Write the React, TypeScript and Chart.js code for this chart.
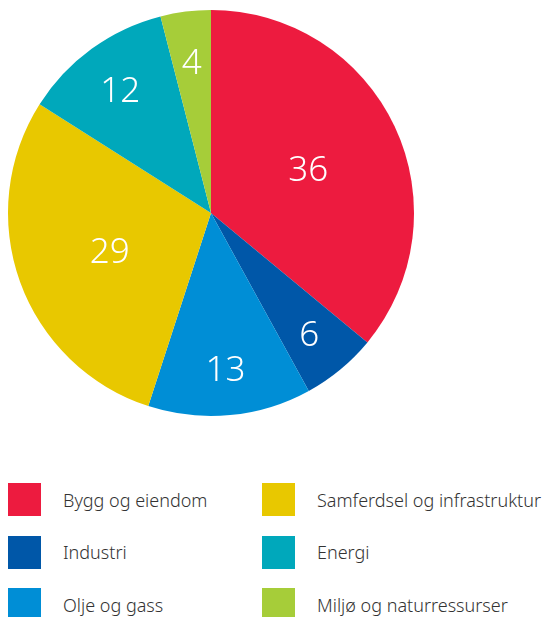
import React, { useEffect, useRef } from "react";
import { Chart, registerables } from "chart.js";

Chart.register(...registerables);

const categories = [
  "Bygg og eiendom",
  "Industri",
  "Olje og gass",
  "Samferdsel og infrastruktur",
  "Energi",
  "Miljø og naturressurser",
];
const values = [36, 6, 13, 29, 12, 4];
const colors = ["#ED1B3F", "#0057A8", "#008ED6", "#E8C800", "#00A8BB", "#A6CD39"];
const legendOrder = [0, 3, 1, 4, 2, 5];

const labelPlugin = {
  id: "sliceLabels",
  afterDatasetsDraw(chart: any) {
    const ctx = chart.ctx;
    const meta = chart.getDatasetMeta(0);
    ctx.save();
    ctx.fillStyle = "#ffffff";
    ctx.font = "300 35px 'Noto Sans', sans-serif";
    ctx.textAlign = "center";
    ctx.textBaseline = "middle";
    meta.data.forEach((arc: any, i: number) => {
      const { x, y, startAngle, endAngle, outerRadius } = arc.getProps(
        ["x", "y", "startAngle", "endAngle", "outerRadius"],
        true
      );
      const mid = (startAngle + endAngle) / 2;
      const f = values[i] > 20 ? 0.53 : 0.76;
      ctx.fillText(String(values[i]), x + Math.cos(mid) * outerRadius * f, y + Math.sin(mid) * outerRadius * f + 4);
    });
    ctx.restore();
  },
};

export default function App() {
  const ref = useRef<HTMLCanvasElement>(null);
  useEffect(() => {
    const chart = new Chart(ref.current!, {
      type: "pie",
      data: {
        labels: categories,
        datasets: [{ data: values, backgroundColor: colors, borderWidth: 0 }],
      },
      options: {
        animation: false,
        responsive: false,
        layout: { padding: 8 },
        plugins: { legend: { display: false }, tooltip: { enabled: false } },
      },
      plugins: [labelPlugin],
    });
    return () => chart.destroy();
  }, []);

  return (
    <div style={{ position: "absolute", left: 0, top: 0, width: 545, height: 617, background: "#fff", overflow: "hidden" }}>
      <canvas ref={ref} width={422} height={426} style={{ position: "absolute", left: 0, top: 0, width: 422, height: 426 }} />
      {legendOrder.map((idx, k) => {
        const col = k % 2;
        const row = Math.floor(k / 2);
        const left = col === 0 ? 8 : 262;
        const top = 483 + row * 52.5;
        return (
          <div key={idx} style={{ position: "absolute", left, top, height: 33, display: "flex", alignItems: "center" }}>
            <div style={{ width: 33, height: 33, background: colors[idx] }} />
            <span
              style={{
                marginLeft: 22,
                fontFamily: "'Noto Sans', sans-serif",
                fontWeight: 300,
                fontSize: 18,
                color: "#333",
                whiteSpace: "nowrap",
              }}
            >
              {categories[idx]}
            </span>
          </div>
        );
      })}
    </div>
  );
}
